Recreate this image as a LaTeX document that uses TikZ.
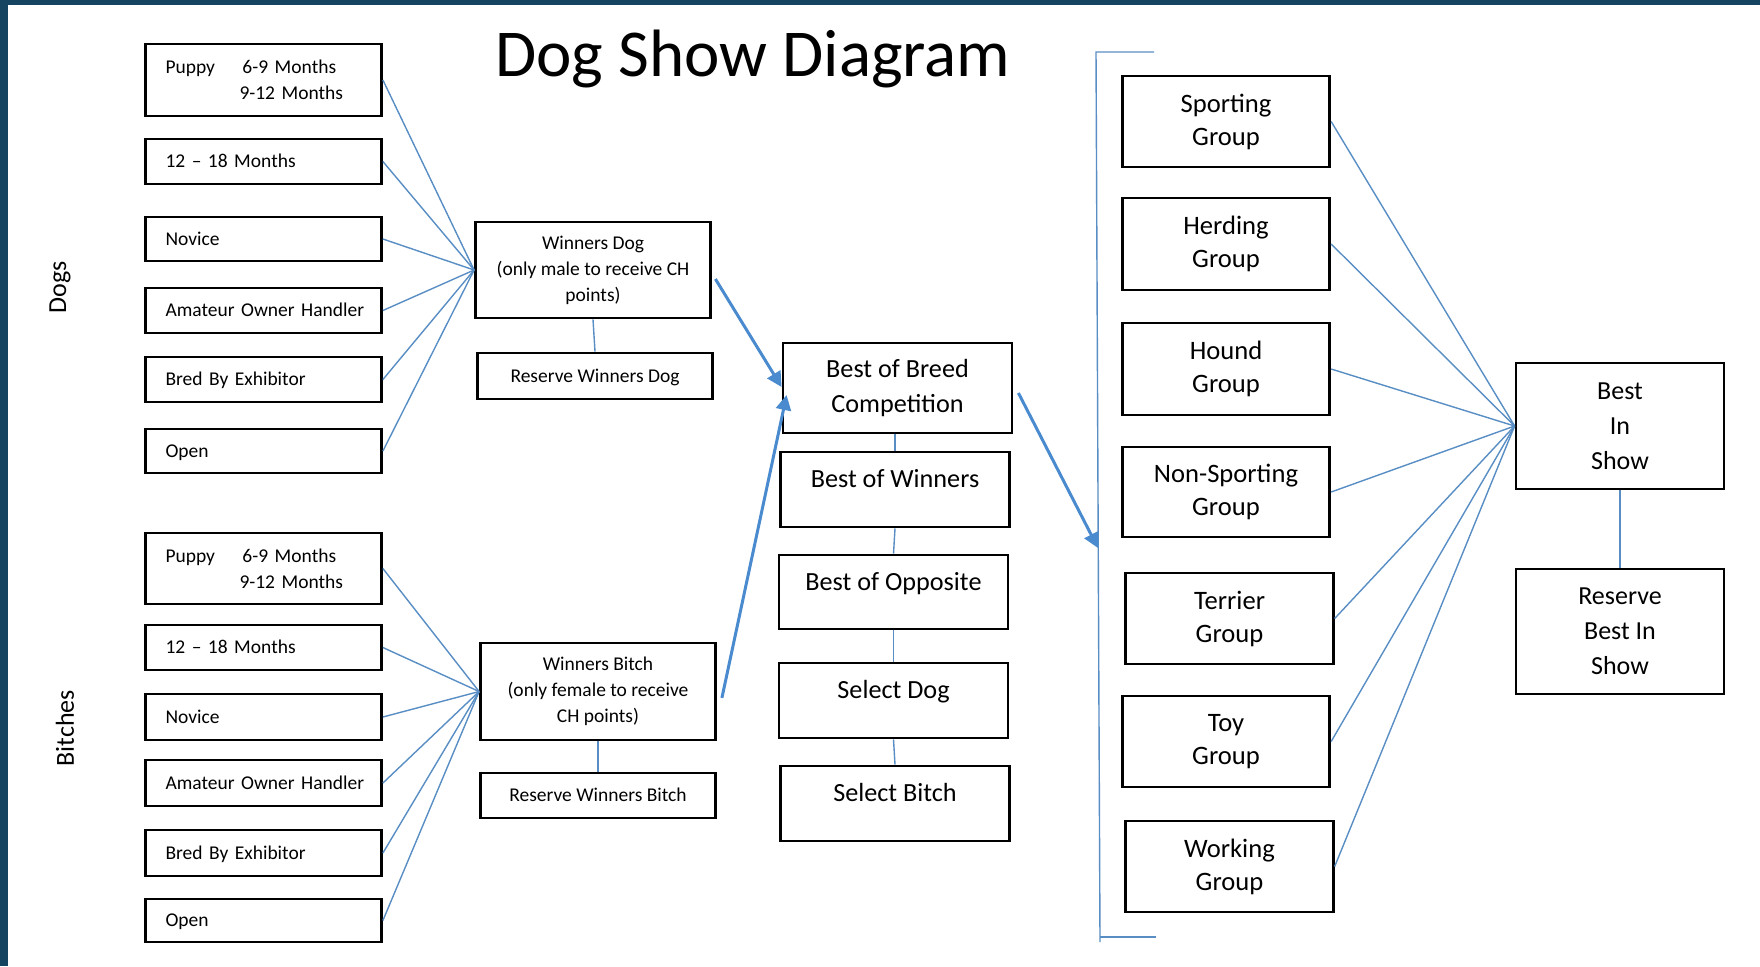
\documentclass[tikz,border=0pt]{standalone}
\usepackage{fontspec}
\setmainfont{Carlito}
\usetikzlibrary{arrows.meta,calc}
\definecolor{framecol}{RGB}{20,68,96}
\definecolor{lnblue}{RGB}{88,142,196}
\definecolor{arblue}{RGB}{74,138,206}
\begin{document}
\begin{tikzpicture}[x=0.5pt,y=-0.5pt,
 box/.style={draw=black,line width=1.4pt,rectangle,inner sep=0pt},
 lbox/.style={box,align=left,text width=98pt,inner xsep=10pt,font=\fontsize{9.75pt}{12.8pt}\selectfont},
 one/.style={text height=6.3pt,text depth=0pt},
 wbox/.style={box,align=center,minimum width=117.5pt,font=\fontsize{9.75pt}{13pt}\selectfont},
 mbox/.style={box,align=center,minimum width=114.5pt,font=\fontsize{13.1pt}{17.5pt}\selectfont},
 upper/.style={text height=17.5pt,text depth=19.5pt},
 gbox/.style={box,align=center,minimum width=103.75pt,font=\fontsize{13.3pt}{16.5pt}\selectfont},
 conn/.style={draw=lnblue,line width=0.7pt},
 bigarrow/.style={draw=arblue,line width=1.5pt,-{Triangle[length=7.5pt,width=7.5pt]}},
 side/.style={rotate=90,font=\fontsize{13pt}{15pt}\selectfont}
]
\useasboundingbox (0,0) rectangle (1760,966);
\fill[white] (0,0) rectangle (1760,966);
\fill[framecol] (0,0) rectangle (8,966);
\fill[framecol] (0,0) rectangle (1760,5);

% title and side labels
\node[anchor=base,font=\fontsize{33.5pt}{38pt}\selectfont] (title) at (753,76) {Dog Show Diagram};
\node[side] (dogs) at (60,287) {Dogs};
\node[side] (bitches) at (65,728) {Bitches};

% dogs classes
\node[lbox,minimum height=36pt] (pd1) at (263.5,80) {\makebox[38.5pt][l]{Puppy}6-9 Months\\\hspace*{37pt}9-12 Months};
\node[lbox,one,minimum height=22.5pt] (pd2) at (263.5,161.5) {12 – 18 Months};
\node[lbox,one,minimum height=22pt] (pd3) at (263.5,239) {Novice};
\node[lbox,one,minimum height=22.5pt] (pd4) at (263.5,310.5) {\mbox{Amateur Owner Handler}};
\node[lbox,one,minimum height=22.5pt] (pd5) at (263.5,379.5) {Bred By Exhibitor};
\node[lbox,one,minimum height=22pt] (pd6) at (263.5,451) {Open};

% bitches classes
\node[lbox,minimum height=35.5pt] (pb1) at (263.5,568.5) {\makebox[38.5pt][l]{Puppy}6-9 Months\\\hspace*{37pt}9-12 Months};
\node[lbox,one,minimum height=22.5pt] (pb2) at (263.5,647.5) {12 – 18 Months};
\node[lbox,one,minimum height=23pt] (pb3) at (263.5,717) {Novice};
\node[lbox,one,minimum height=23pt] (pb4) at (263.5,783) {\mbox{Amateur Owner Handler}};
\node[lbox,one,minimum height=23pt] (pb5) at (263.5,853) {Bred By Exhibitor};
\node[lbox,one,minimum height=21.5pt] (pb6) at (263.5,920.5) {Open};

% winners
\node[wbox,minimum height=48pt] (wd) at (593,270) {Winners Dog\\(only male to receive CH\\points)};
\node[wbox,text height=6.3pt,text depth=0pt,minimum height=23pt] (rwd) at (595,376) {Reserve Winners Dog};
\node[wbox,minimum height=48.5pt] (wb) at (598,691.5) {Winners Bitch\\(only female to receive\\CH points)};
\node[wbox,text height=6.3pt,text depth=0pt,minimum height=22.5pt] (rwb) at (598,795.5) {Reserve Winners Bitch};

% breed level
\node[mbox,minimum height=45pt] (bob) at (897.5,388) {Best of Breed\\Competition};
\node[mbox,upper,minimum height=37.5pt] (bow) at (895,489.5) {Best of Winners};
\node[mbox,upper,minimum height=37pt] (boo) at (893.5,592) {Best of Opposite};
\node[mbox,upper,minimum height=37.5pt] (sd) at (893.5,700.5) {Select Dog};
\node[mbox,upper,minimum height=37.5pt] (sb) at (895,803.5) {Select Bitch};

% groups
\node[gbox,minimum height=45.5pt] (sp) at (1226,121.5) {Sporting\\Group};
\node[gbox,minimum height=46pt] (he) at (1226,244) {Herding\\Group};
\node[gbox,minimum height=46pt] (ho) at (1226,369) {Hound\\Group};
\node[gbox,minimum height=45pt] (ns) at (1226,492) {Non-Sporting\\Group};
\node[gbox,minimum height=45.5pt] (te) at (1229.5,618.5) {Terrier\\Group};
\node[gbox,minimum height=45.5pt] (to) at (1226,741.5) {Toy\\Group};
\node[gbox,minimum height=45.5pt] (wo) at (1229.5,866.5) {Working\\Group};

% best in show
\node[gbox,minimum width=104pt,font=\fontsize{13pt}{17.5pt}\selectfont,minimum height=63pt] (bis) at (1620,426) {Best\\In\\Show};
\node[gbox,minimum width=104pt,font=\fontsize{13pt}{17.5pt}\selectfont,minimum height=62.5pt] (rbis) at (1620,631.5) {Reserve\\Best In\\Show};

% bracket
\coordinate (b1) at (1154,52);
\coordinate (b2) at (1096,52);
\coordinate (b3) at (1100,942);
\coordinate (b4) at (1100,937);
\coordinate (b5) at (1156,937);
\coordinate (brk) at (1098,548);
\draw[conn] (b1) -- (b2) -- (b3);
\draw[conn] (b4) -- (b5);

% fan-in connectors
\foreach \n in {pd1,pd2,pd3,pd4,pd5,pd6} \draw[conn] (\n.east) -- (wd.west);
\foreach \n in {pb1,pb2,pb3,pb4,pb5,pb6} \draw[conn] (\n.east) -- (wb.west);
\foreach \n in {sp,he,ho,ns,te,to,wo} \draw[conn] (\n.east) -- (bis.west);

% vertical links
\draw[conn] (wd.south) -- (rwd.north);
\draw[conn] (wb.south) -- (rwb.north);
\draw[conn] (bob.south -| bow.north) -- (bow.north);
\draw[conn] (bow.south) -- (boo.north);
\draw[conn] (boo.south) -- (sd.north);
\draw[conn] (sd.south) -- (sb.north);
\draw[conn] (bis.south) -- (rbis.north);

% thick arrows
\draw[bigarrow] ([xshift=1.75pt,yshift=-4.5pt]wd.east) -- ([yshift=0.5pt]bob.west);
\draw[bigarrow] ([xshift=2.5pt,yshift=-3.2pt]wb.east) -- ([xshift=2.5pt,yshift=-3.5pt]bob.west);
\draw[bigarrow] ([xshift=2.5pt,yshift=-2.5pt]bob.east) -- (brk);
\end{tikzpicture}
\end{document}
